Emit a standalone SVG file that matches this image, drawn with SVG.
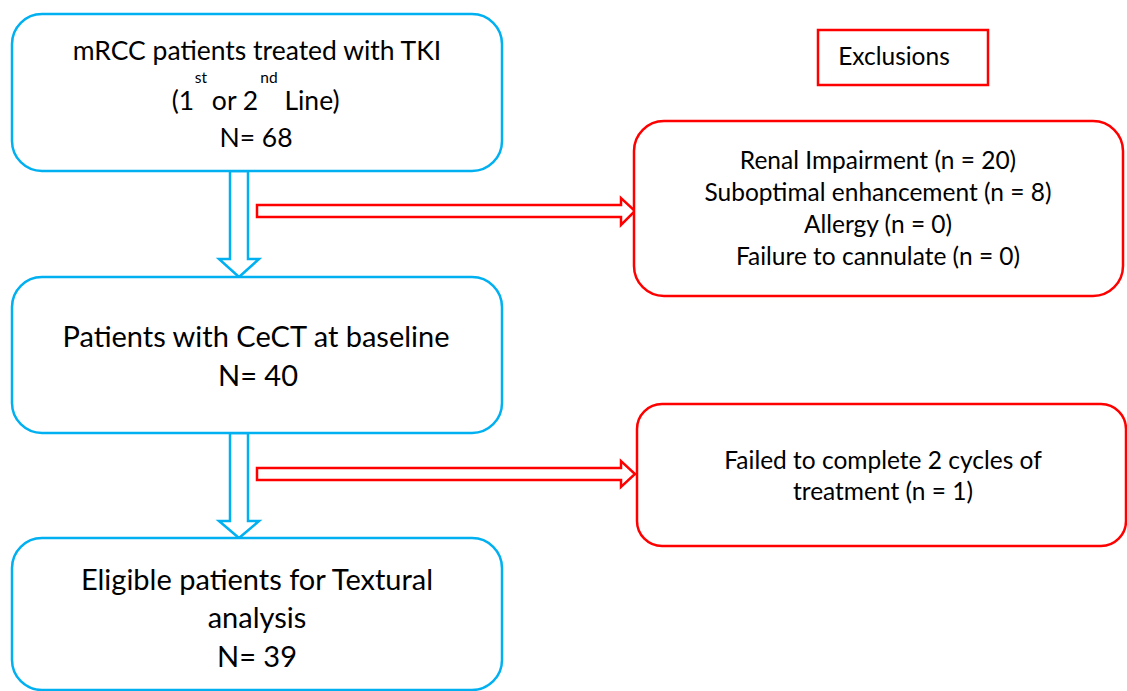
<svg xmlns="http://www.w3.org/2000/svg" width="1127" height="691" viewBox="0 0 1127 691">
<style>
.bb{fill:#fff;stroke:#00B0F0;stroke-width:2.5}
.rb{fill:#fff;stroke:#FF0000;stroke-width:2.5}
.ba{fill:#fff;stroke:#00B0F0;stroke-width:2.5;stroke-linejoin:miter}
.ra{fill:#fff;stroke:#FF0000;stroke-width:2.5;stroke-linejoin:miter}
text{font-family:Lato,"Liberation Sans",sans-serif;fill:#000;text-anchor:middle}
.t1{font-size:26.5px}
.t2{font-size:29px}
.t3{font-size:24.5px}
.sup{font-size:15.5px}
</style>
<rect width="1127" height="691" fill="#fff"/>
<g id="connectors">
<polygon class="ba" points="230,171 248,171 248,259 259,259 239,277 219,259 230,259"/>
<polygon class="ba" points="230,433 248,433 248,521 259,521 239,538 219,521 230,521"/>
<polygon class="ra" points="257,205 621,205 621,198 635,211 621,225 621,217 257,217"/>
<polygon class="ra" points="257,468 621,468 621,461 635,474 621,487 621,480 257,480"/>
</g>
<g id="n1">
<rect class="bb" x="12" y="14" width="490" height="157" rx="30"/>
<text class="t1" x="257" y="60">mRCC patients treated with TKI</text>
<text class="t1" x="183" y="110">(1</text>
<text class="sup" x="201" y="83">st</text>
<text class="t1" x="235" y="110">or 2</text>
<text class="sup" x="269" y="83">nd</text>
<text class="t1" x="312" y="110">Line)</text>
<text class="t1" x="256" y="147">N= 68</text>
</g>
<g id="n2">
<rect class="bb" x="12" y="277" width="490" height="156" rx="30"/>
<text class="t2" x="256" y="347">Patients with CeCT at baseline</text>
<text class="t2" x="258" y="386">N= 40</text>
</g>
<g id="n3">
<rect class="bb" x="12" y="538" width="490" height="152" rx="30"/>
<text class="t2" x="257" y="590">Eligible patients for Textural</text>
<text class="t2" x="257" y="628">analysis</text>
<text class="t2" x="257" y="667">N= 39</text>
</g>
<g id="excl">
<rect class="rb" x="818" y="30" width="170" height="55"/>
<text class="t3" x="894" y="65">Exclusions</text>
</g>
<g id="r1">
<rect class="rb" x="634" y="121" width="489" height="175" rx="30"/>
<text class="t3" x="878" y="169">Renal Impairment (n = 20)</text>
<text class="t3" x="878" y="201">Suboptimal enhancement (n = 8)</text>
<text class="t3" x="878" y="233">Allergy (n = 0)</text>
<text class="t3" x="878" y="265">Failure to cannulate (n = 0)</text>
</g>
<g id="r2">
<rect class="rb" x="637" y="404" width="489" height="142" rx="25"/>
<text class="t3" x="883" y="469">Failed to complete 2 cycles of</text>
<text class="t3" x="883" y="500">treatment (n = 1)</text>
</g>
</svg>
